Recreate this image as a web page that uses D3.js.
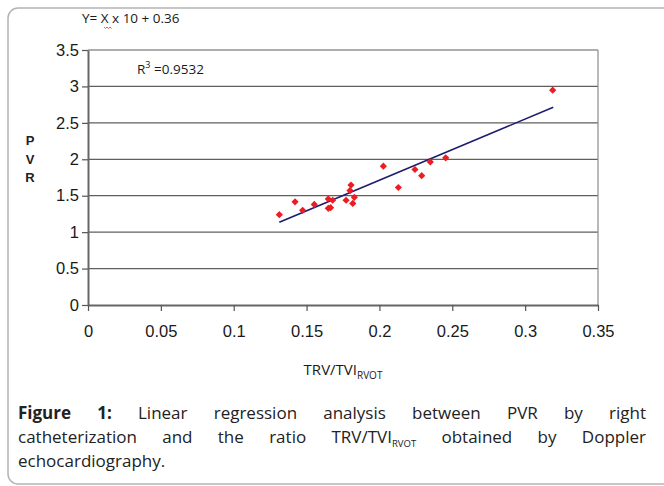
<!DOCTYPE html>
<html lang="en">
<head>
<meta charset="UTF-8">
<title>PVR vs TRV/TVI</title>
<script src="https://d3js.org/d3.v7.min.js"></script>
<style>
  body { margin: 0; background: #fff; }
  svg { display: block; }
</style>
</head>
<body>
<div id="chart"></div>
<script>
// measured points (TRV/TVI ratio, PVR)
var xVals = [0.1313, 0.1421, 0.1473, 0.1553, 0.1649, 0.1649, 0.1665, 0.1679, 0.1771, 0.1805,
             0.1798, 0.1828, 0.1817, 0.2027, 0.2130, 0.2244, 0.2290, 0.2349, 0.2455, 0.3189];
var yVals = [1.24, 1.416, 1.30, 1.38, 1.456, 1.327, 1.336, 1.438, 1.438, 1.646,
             1.571, 1.478, 1.394, 1.905, 1.613, 1.86, 1.775, 1.964, 2.02, 2.948];

// regression line end points
var fitX = [0.1313, 0.3193];
var fitY = [1.137, 2.714];

var xTicks = [0, 0.05, 0.1, 0.15, 0.2, 0.25, 0.3, 0.35];
var yTicks = [0, 0.5, 1, 1.5, 2, 2.5, 3, 3.5];

var width = 664, height = 486;
var plotL = 88, plotR = 598, plotT = 50, plotB = 305;

var svg = d3.select("#chart").append("svg")
  .attr("width", width)
  .attr("height", height);

// outer frame
svg.append("rect")
  .attr("x", 8).attr("y", 8)
  .attr("width", 700).attr("height", 476)
  .attr("rx", 10)
  .attr("fill", "none")
  .attr("stroke", "#b4b4b4")
  .attr("stroke-width", 1.5);

var x = d3.scaleLinear().domain([0, 0.35]).range([plotL, plotR]);
var y = d3.scaleLinear().domain([0, 3.5]).range([plotB, plotT]);

// gridlines
svg.append("g").selectAll("line")
  .data(yTicks.slice(1))
  .enter().append("line")
  .attr("x1", plotL).attr("x2", plotR)
  .attr("y1", function(d) { return y(d); })
  .attr("y2", function(d) { return y(d); })
  .attr("stroke", "#5f5f5f")
  .attr("stroke-width", 1.2);

// right border
svg.append("line")
  .attr("x1", plotR).attr("x2", plotR)
  .attr("y1", plotT).attr("y2", plotB)
  .attr("stroke", "#8a8a8a").attr("stroke-width", 1.2);

var xAxis = svg.append("g")
  .attr("transform", "translate(0," + plotB + ")")
  .call(d3.axisBottom(x).tickValues(xTicks).tickSize(6).tickPadding(14)
    .tickFormat(function(d) { return String(d); }).tickSizeOuter(0));

var yAxis = svg.append("g")
  .attr("transform", "translate(" + plotL + ",0)")
  .call(d3.axisLeft(y).tickValues(yTicks).tickSize(6).tickPadding(3)
    .tickFormat(function(d) { return String(d); }).tickSizeOuter(0));

[xAxis, yAxis].forEach(function(g) {
  g.select(".domain").attr("stroke", "#666").attr("stroke-width", 2);
  g.selectAll(".tick line").attr("stroke", "#555").attr("stroke-width", 1.2);
  g.selectAll(".tick text")
    .attr("fill", "#1a1a1a")
    .style("font-family", "'Liberation Sans', Arial, sans-serif")
    .style("font-size", "16.5px");
});

// regression line
svg.append("path")
  .datum(d3.zip(fitX, fitY))
  .attr("d", d3.line().x(function(d) { return x(d[0]); }).y(function(d) { return y(d[1]); }))
  .attr("fill", "none")
  .attr("stroke", "#1c1c6e")
  .attr("stroke-width", 1.6);

// points
var r = 3.6;
svg.append("g").selectAll("path")
  .data(d3.zip(xVals, yVals))
  .enter().append("path")
  .attr("transform", function(d) { return "translate(" + x(d[0]) + "," + y(d[1]) + ")"; })
  .attr("d", "M0," + (-r) + "L" + r + ",0L0," + r + "L" + (-r) + ",0Z")
  .attr("fill", "#ec1c24");

// equation and r squared
svg.append("text")
  .attr("x", 82).attr("y", 23)
  .style("font-family", "'Open Sans', sans-serif")
  .style("font-size", "13.5px")
  .attr("fill", "#1a1a1a")
  .text("Y= X x 10 + 0.36");

svg.append("path")
  .attr("d", "M104,27l1.5,1.5l1.5,-1.5l1.5,1.5l1.5,-1.5l1.5,1.5")
  .attr("fill", "none")
  .attr("stroke", "#e03030")
  .attr("stroke-width", 0.8);

var rsq = svg.append("text")
  .attr("x", 137).attr("y", 74)
  .style("font-family", "'Open Sans', sans-serif")
  .style("font-size", "13.5px")
  .attr("fill", "#1a1a1a");
rsq.append("tspan").text("R");
rsq.append("tspan").attr("dy", -6).style("font-size", "9px").text("3");
rsq.append("tspan").attr("dy", 6).text(" =0.9532");

// y title, stacked letters
svg.append("g").selectAll("text")
  .data(["P", "V", "R"])
  .enter().append("text")
  .attr("x", 30)
  .attr("y", function(d, i) { return 145 + i * 18.5; })
  .attr("text-anchor", "middle")
  .style("font-family", "'Liberation Sans', Arial, sans-serif")
  .style("font-size", "13px")
  .style("font-weight", "bold")
  .attr("fill", "#222")
  .text(function(d) { return d; });

// x title
var xt = svg.append("text")
  .attr("x", (plotL + plotR) / 2).attr("y", 375)
  .attr("text-anchor", "middle")
  .style("font-family", "'Open Sans', sans-serif")
  .style("font-size", "15px")
  .attr("fill", "#1a1a1a");
xt.append("tspan").text("TRV/TVI");
xt.append("tspan").attr("dy", 4).style("font-size", "10px").text("RVOT");

// caption, justified like the source
var capLeft = 18, capRight = 646;
var capLines = [
  [{t: "Figure", b: true}, {t: "1:", b: true}, {t: "Linear"}, {t: "regression"}, {t: "analysis"},
   {t: "between"}, {t: "PVR"}, {t: "by"}, {t: "right"}],
  [{t: "catheterization"}, {t: "and"}, {t: "the"}, {t: "ratio"}, {t: "TRV/TVI", sub: "RVOT"},
   {t: "obtained"}, {t: "by"}, {t: "Doppler"}],
  [{t: "echocardiography."}]
];
var capY = [419, 443, 467];

capLines.forEach(function(words, li) {
  var nodes = words.map(function(w) {
    var t = svg.append("text")
      .attr("y", capY[li])
      .style("font-family", "'Open Sans', sans-serif")
      .style("font-size", "17px")
      .style("font-weight", w.b ? "bold" : "normal")
      .attr("fill", "#222");
    t.append("tspan").text(w.t);
    if (w.sub) t.append("tspan").attr("dy", 4).style("font-size", "9.5px").text(w.sub);
    return t;
  });
  var widths = nodes.map(function(n) { return n.node().getComputedTextLength(); });
  var total = d3.sum(widths);
  var gap = li < 2 ? (capRight - capLeft - total) / (nodes.length - 1) : 0;
  var cx = capLeft;
  nodes.forEach(function(n, i) {
    n.attr("x", cx);
    cx += widths[i] + gap;
  });
});
</script>
</body>
</html>
